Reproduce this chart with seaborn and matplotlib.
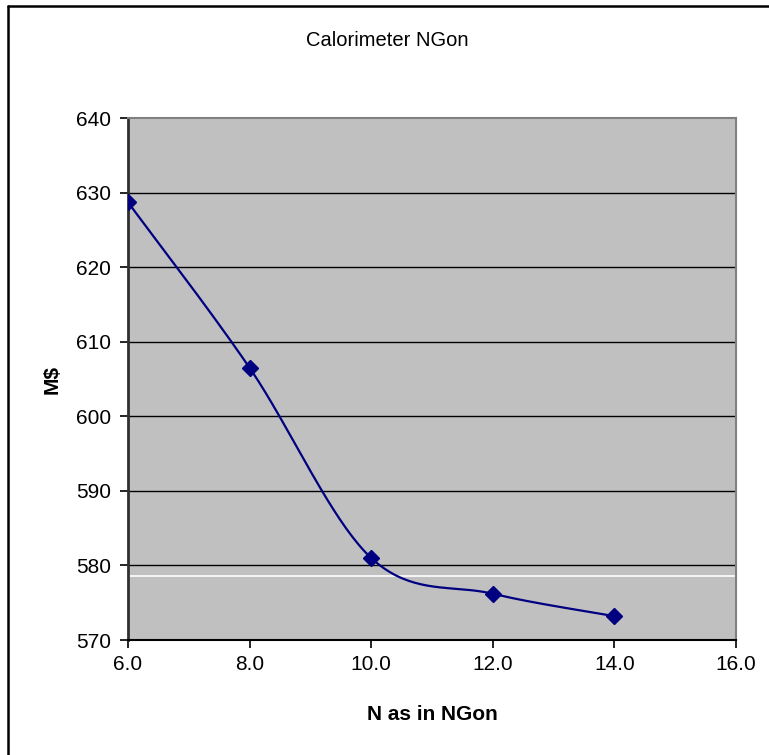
import numpy as np
import pandas as pd
import matplotlib
matplotlib.use("Agg")
import matplotlib.pyplot as plt
from matplotlib.lines import Line2D
import seaborn as sns

# Data
n_values = [6.0, 8.0, 10.0, 12.0, 14.0]
cost_musd = [628.7, 606.5, 581.0, 576.2, 573.2]
x_ticks = [6.0, 8.0, 10.0, 12.0, 14.0, 16.0]
y_ticks = [570, 580, 590, 600, 610, 620, 630, 640]

title = "Calorimeter NGon"
x_label = "N as in NGon"
y_label = "M$"

sns.set_theme(style="white")
plt.rcParams['font.family'] = ['Liberation Sans', 'DejaVu Sans']
plt.rcParams['text.color'] = 'black'
plt.rcParams['axes.labelcolor'] = 'black'
plt.rcParams['xtick.color'] = 'black'
plt.rcParams['ytick.color'] = 'black'

df = pd.DataFrame({"N": n_values, "cost": cost_musd})

W, H = 769, 755
fig = plt.figure(figsize=(W / 100, H / 100), dpi=100)
fig.patch.set_facecolor("white")
ax = fig.add_axes([128 / W, 1 - 640 / H, 608 / W, 522 / H])
ax.set_facecolor("#C0C0C0")

# Smoothed curve (Excel-style Bezier through the points, for rendering only)
def smooth_curve(xs, ys, steps=40):
    P = np.column_stack([xs, ys]).astype(float)
    Pext = np.vstack([P[0], P, P[-1]])
    out = []
    for i in range(1, len(Pext) - 2):
        p0, p1, p2, p3 = Pext[i - 1], Pext[i], Pext[i + 1], Pext[i + 2]
        c1 = p1 + (p2 - p0) / 6.0
        c2 = p2 - (p3 - p1) / 6.0
        t = np.linspace(0, 1, steps)[:, None]
        seg = ((1 - t) ** 3) * p1 + 3 * ((1 - t) ** 2) * t * c1 + 3 * (1 - t) * t ** 2 * c2 + t ** 3 * p2
        out.append(seg if i == 1 else seg[1:])
    return np.vstack(out)

curve = smooth_curve(df["N"].values, df["cost"].values)
curve_df = pd.DataFrame({"N": curve[:, 0], "cost": curve[:, 1]})

for yv in y_ticks[1:-1]:
    ax.axhline(yv, color="black", lw=1.0, zorder=1)
ax.axhline(578.6, color="white", lw=1.2, zorder=1)

sns.lineplot(data=curve_df, x="N", y="cost", sort=False, color="#000080",
             lw=1.6, ax=ax, zorder=3, estimator=None)
ax.plot(df["N"], df["cost"], linestyle="none", marker="D", markersize=8,
        color="#000080", zorder=4)

ax.set_xlim(6, 16)
ax.set_ylim(570, 640)
ax.set_xticks(x_ticks)
ax.set_xticklabels([f"{v:.1f}" for v in x_ticks], fontsize=15)
ax.set_yticks(y_ticks)
ax.set_yticklabels([str(v) for v in y_ticks], fontsize=15)
ax.tick_params(axis="both", direction="out", length=6, width=1.2, color="black",
               labelcolor="black", bottom=True, left=True, pad=6)
ax.tick_params(axis="x", pad=5)

for side in ["top", "right"]:
    ax.spines[side].set_color("#808080")
    ax.spines[side].set_linewidth(1.5)
ax.spines["left"].set_color("#303030")
ax.spines["left"].set_linewidth(2)
ax.spines["bottom"].set_color("black")
ax.spines["bottom"].set_linewidth(1.5)

ax.set_xlabel(x_label, fontsize=15, fontweight="bold", labelpad=22, color="black")
ax.set_ylabel(y_label, fontsize=15, fontweight="bold", labelpad=10.5, color="black")

fig.text(387 / W, 1 - 40 / H, title, ha="center", va="center", fontsize=14.5, color="black")

# outer frame (left and top visible)
fig.add_artist(Line2D([8 / W, 8 / W], [0, 1 - 6 / H], transform=fig.transFigure, color="black", lw=1.8))
fig.add_artist(Line2D([8 / W, 1], [1 - 6 / H, 1 - 6 / H], transform=fig.transFigure, color="black", lw=1.8))

fig.savefig("out.png", dpi=100)
